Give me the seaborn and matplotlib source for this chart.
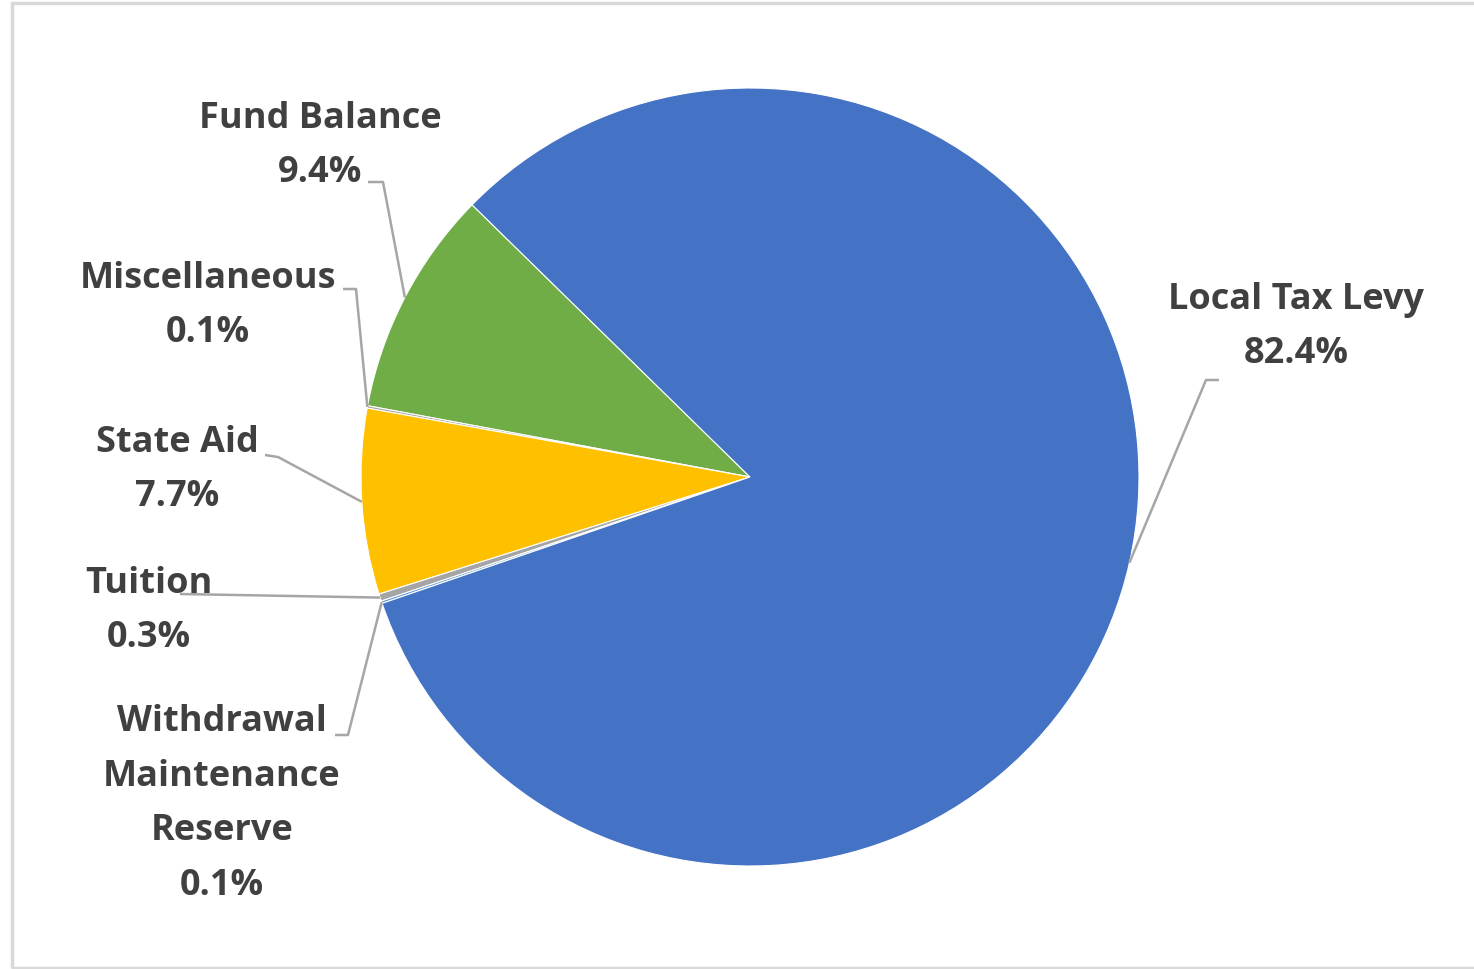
import numpy as np
import matplotlib
matplotlib.use("Agg")
import matplotlib.pyplot as plt
import matplotlib.patches as mpatches
import seaborn as sns

# ---- data ----
categories = ["Fund Balance", "Miscellaneous", "State Aid", "Tuition",
              "Withdrawal\nMaintenance\nReserve", "Local Tax Levy"]
values = [9.4, 0.1, 7.7, 0.3, 0.1, 82.4]
colors = ["#70AD47", "#A5A5A5", "#FFC000", "#A5A5A5", "#5B9BD5", "#4472C4"]

sns.set_theme(style="white")
plt.rcParams['font.family'] = ['Open Sans', 'DejaVu Sans']

W, H = 1474, 969
fig = plt.figure(figsize=(W / 100, H / 100), dpi=100)
ax = fig.add_axes([0, 0, 1, 1])

cx, cy, R = 750, H - 477, 389
wedges, _ = ax.pie(values, colors=colors, startangle=135.6, counterclock=True,
                   center=(cx, cy), radius=R,
                   wedgeprops=dict(edgecolor="white", linewidth=0.8))
ax.set_xlim(0, W)
ax.set_ylim(0, H)
ax.set_aspect("equal")
ax.axis("off")

# label layout: text center and leader elbow points, in pixel coords (y from top)
layout = [
    ((320, 146), [(368, 182), (383, 182)]),
    ((208, 306), [(343, 289), (356, 289)]),
    ((177, 470), [(265, 455), (278, 457)]),
    ((149, 611), [(180, 594)]),
    ((222, 804), [(335, 735), (348, 735)]),
    ((1296, 327), [(1219, 380), (1206, 380)]),
]

line_color = "#A6A6A6"
text_color = "#404040"
for w, cat, val, (tpos, elbow) in zip(wedges, categories, values, layout):
    mid = np.deg2rad((w.theta1 + w.theta2) / 2)
    ex, ey = cx + R * np.cos(mid), cy + R * np.sin(mid)
    xs = [p[0] for p in elbow] + [ex]
    ys = [H - p[1] for p in elbow] + [ey]
    ax.plot(xs, ys, color=line_color, lw=1.8, solid_capstyle="butt", zorder=1)
    ax.text(tpos[0], H - tpos[1], f"{cat}\n{val:.1f}%", ha="center", va="center",
            multialignment="center", fontsize=26, fontweight="bold",
            color=text_color, linespacing=1.68, zorder=3)

# chart border
fig.patches.append(mpatches.Rectangle((12 / W, 1 / H), 1.2, (H - 4) / H,
                                      transform=fig.transFigure, fill=False,
                                      edgecolor="#D9D9D9", linewidth=2.5))

fig.savefig("out.png", dpi=100, facecolor="white")
